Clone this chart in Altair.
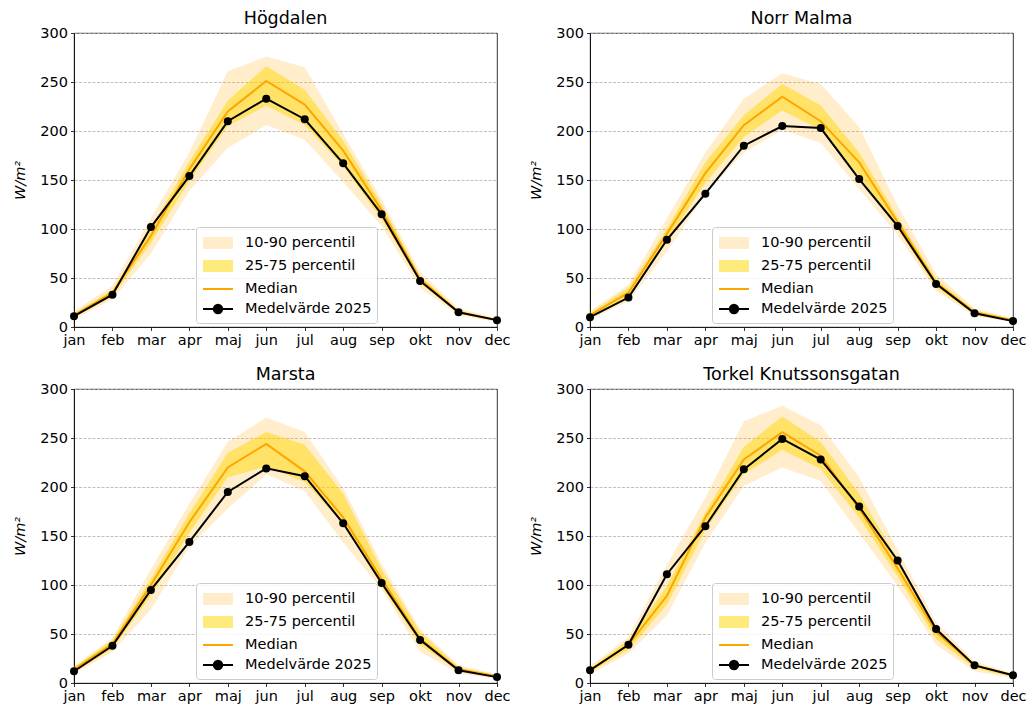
import altair as alt
import pandas as pd

months = ["jan", "feb", "mar", "apr", "maj", "jun", "jul", "aug", "sep", "okt", "nov", "dec"]
stations = ["Högdalen", "Norr Malma", "Marsta", "Torkel Knutssonsgatan"]

# Högdalen
hog_p10 = [8, 28, 75, 139, 183, 206, 191, 148, 103, 40, 12, 5]
hog_p25 = [10, 31, 86, 149, 205, 226, 206, 164, 110, 45, 14, 6]
hog_med = [12, 35, 93, 161, 220, 251, 227, 180, 119, 49, 15, 7]
hog_p75 = [14, 38, 100, 169, 231, 266, 242, 190, 125, 52, 17, 8]
hog_p90 = [16, 42, 111, 178, 261, 276, 265, 197, 130, 56, 19, 9]
hog_mean = [11, 33, 102, 154, 210, 233, 212, 167, 115, 47, 15, 7]

# Norr Malma
nm_p10 = [8, 26, 77, 136, 178, 201, 188, 141, 94, 37, 11, 5]
nm_p25 = [10, 30, 87, 147, 194, 221, 201, 154, 100, 40, 13, 6]
nm_med = [12, 35, 95, 157, 206, 235, 210, 168, 107, 45, 15, 7]
nm_p75 = [14, 40, 100, 168, 216, 248, 226, 178, 112, 49, 17, 8]
nm_p90 = [16, 43, 111, 178, 233, 259, 248, 204, 124, 54, 19, 9]
nm_mean = [10, 30, 89, 136, 185, 205, 203, 151, 103, 44, 14, 6]

# Marsta
ma_p10 = [9, 32, 75, 139, 178, 213, 196, 143, 96, 32, 10, 4]
ma_p25 = [11, 35, 89, 153, 210, 221, 205, 163, 99, 39, 12, 5]
ma_med = [14, 40, 100, 164, 220, 244, 216, 169, 106, 45, 14, 7]
ma_p75 = [16, 44, 106, 173, 235, 256, 243, 193, 116, 52, 16, 8]
ma_p90 = [17, 46, 116, 183, 246, 271, 256, 199, 122, 55, 18, 9]
ma_mean = [12, 38, 95, 144, 195, 219, 211, 163, 102, 44, 13, 6]

# Torkel Knutssonsgatan
tk_p10 = [9, 30, 69, 143, 201, 220, 206, 153, 99, 39, 12, 5]
tk_p25 = [11, 34, 80, 156, 213, 238, 218, 169, 109, 45, 15, 6]
tk_med = [13, 39, 89, 169, 228, 256, 232, 178, 117, 52, 18, 8]
tk_p75 = [15, 44, 99, 174, 241, 272, 246, 193, 126, 57, 20, 9]
tk_p90 = [17, 47, 121, 189, 267, 283, 263, 210, 136, 62, 22, 10]
tk_mean = [13, 39, 111, 160, 218, 249, 228, 180, 125, 55, 18, 8]

series = ["10-90 percentil", "25-75 percentil", "Median", "Medelvärde 2025"]
fill_range = ["orange", "gold", "transparent", "black"]
stroke_range = ["transparent", "transparent", "orange", "black"]
opacity_range = [0.2, 0.5, 1, 1]
RECT = "M-1.5,-0.6H1.5V0.6H-1.5Z"
LINE = "M-1.5,0H1.5"
DOT = "M-1.5,0H1.5M-0.42,0A0.42,0.42,0,1,1,0.42,0A0.42,0.42,0,1,1,-0.42,0"
shape_range = [RECT, RECT, LINE, DOT]
y_ticks = [0, 50, 100, 150, 200, 250, 300]

FS = 14.5
W, H = 423, 294


def make_legend():
    return alt.Legend(
        title=None, orient="none", legendX=122, legendY=194,
        symbolSize=400, symbolStrokeWidth=2, symbolOffset=6, labelOffset=16, rowPadding=2, padding=5,
        fillColor="rgba(255,255,255,0.8)", strokeColor="#cccccc", cornerRadius=3,
        labelFontSize=FS, labelFont="DejaVu Sans", labelColor="black",
    )


def panel(name, p10, p25, med, p75, p90, mean):
    df = pd.DataFrame({"month": months, "p10": p10, "p25": p25, "median": med,
                       "p75": p75, "p90": p90, "mean": mean})
    x = alt.X("month:O", sort=months, scale=alt.Scale(padding=0),
              axis=alt.Axis(title=None, labelAngle=0))
    ysc = alt.Scale(domain=[0, 300], nice=False)
    yaxis = alt.Axis(values=y_ticks, title="W/m²", titleFontStyle="italic", titlePadding=12)
    fill = alt.Fill("series:N", scale=alt.Scale(type="ordinal", domain=series, range=fill_range),
                    legend=make_legend())
    stroke = alt.Stroke("series:N", scale=alt.Scale(type="ordinal", domain=series, range=stroke_range),
                        legend=make_legend())
    opac = alt.Opacity("series:N", scale=alt.Scale(type="ordinal", domain=series, range=opacity_range),
                       legend=make_legend())
    shape = alt.Shape("series:N", scale=alt.Scale(type="ordinal", domain=series, range=shape_range),
                      legend=make_legend())
    base = alt.Chart(df)
    a1 = base.mark_area().transform_calculate(series="'10-90 percentil'").encode(
        x=x, y=alt.Y("p10:Q", scale=ysc, axis=yaxis), y2="p90:Q", fill=fill, opacity=opac)
    a2 = base.mark_area().transform_calculate(series="'25-75 percentil'").encode(
        x=x, y=alt.Y("p25:Q", scale=ysc, axis=yaxis), y2="p75:Q", fill=fill, opacity=opac)
    l1 = base.mark_line(strokeWidth=2).transform_calculate(series="'Median'").encode(
        x=x, y=alt.Y("median:Q", scale=ysc, axis=yaxis), stroke=stroke)
    l2 = base.mark_line(strokeWidth=2).transform_calculate(series="'Medelvärde 2025'").encode(
        x=x, y=alt.Y("mean:Q", scale=ysc, axis=yaxis), stroke=stroke)
    pts = base.mark_point(filled=True, size=64, opacity=1).transform_calculate(
        series="'Medelvärde 2025'").encode(
        x=x, y=alt.Y("mean:Q", scale=ysc, axis=yaxis), fill=fill)
    ghost = base.mark_point(size=1).transform_calculate(series="'Medelvärde 2025'").encode(
        x=x, y=alt.Y("mean:Q", scale=ysc, axis=yaxis), shape=shape, opacity=alt.value(0))
    return alt.layer(a1, a2, l1, l2, pts, ghost).properties(
        width=W, height=H,
        title=alt.TitleParams(name, fontSize=17.5, font="DejaVu Sans", fontWeight="normal",
                              offset=-2, color="black", frame="group"))


panels = [
    panel(stations[0], hog_p10, hog_p25, hog_med, hog_p75, hog_p90, hog_mean),
    panel(stations[1], nm_p10, nm_p25, nm_med, nm_p75, nm_p90, nm_mean),
    panel(stations[2], ma_p10, ma_p25, ma_med, ma_p75, ma_p90, ma_mean),
    panel(stations[3], tk_p10, tk_p25, tk_med, tk_p75, tk_p90, tk_mean),
]

chart = alt.concat(*panels, columns=2, spacing={"row": 17, "column": 17}).resolve_scale(
    fill="independent", stroke="independent", opacity="independent", shape="independent"
).resolve_legend(
    fill="independent", stroke="independent", opacity="independent", shape="independent"
).properties(
    padding={"left": 4, "top": 1, "right": 0, "bottom": 0}
).configure_view(stroke="black", strokeWidth=0.8).configure_axis(
    labelFont="DejaVu Sans", labelFontSize=FS, labelColor="black",
    titleFont="DejaVu Sans", titleFontSize=FS, titleColor="black", titleFontWeight="normal",
    domainColor="black", domainWidth=0.8, tickColor="black", tickWidth=0.8, tickSize=3.5,
    labelPadding=3, gridColor="#b0b0b0", gridDash=[3, 1.5], gridWidth=0.8, gridOpacity=1,
)

chart.save("out.html", embed_options={"renderer": "svg", "actions": False})
